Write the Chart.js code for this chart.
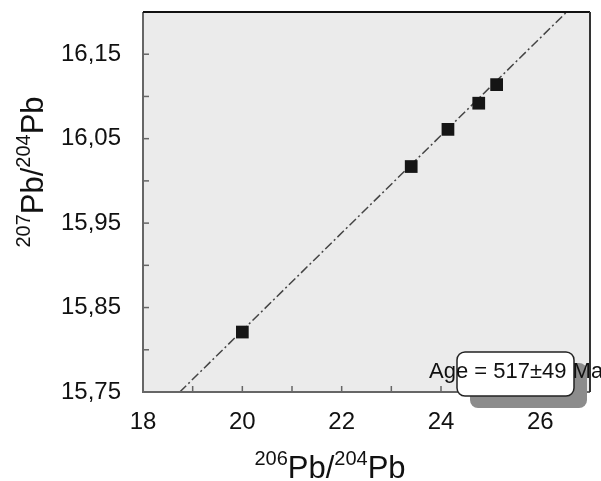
<!DOCTYPE html>
<html>
<head>
<meta charset="utf-8">
<script src="https://cdn.jsdelivr.net/npm/chart.js@4/dist/chart.umd.min.js"></script>
<style>
  html, body { margin: 0; padding: 0; background: #fff; }
  #wrap { width: 601px; height: 481px; }
</style>
</head>
<body>
<div id="wrap"><canvas id="chart" width="601" height="481"></canvas></div>
<script>
// ============ Data ============
const xValues = [20.0, 23.40, 24.14, 24.76, 25.12];
const yValues = [15.821, 16.017, 16.061, 16.092, 16.114];
const fitX = [18.74, 26.53];
const fitY = [15.75, 16.20];

const xTicks = [18, 19, 20, 21, 22, 23, 24, 25, 26, 27];
const xTickLabels = ['18', '', '20', '', '22', '', '24', '', '26', ''];
const yTicks = [15.75, 15.80, 15.85, 15.90, 15.95, 16.00, 16.05, 16.10, 16.15, 16.20];
const yTickLabels = ['15,75', '', '15,85', '', '15,95', '', '16,05', '', '16,15', ''];

const ageText = 'Age = 517\u00B149 Ma';
const FONT = 'Liberation Sans, Arial, sans-serif';

// ============ Plugins ============
const plotBg = {
    id: 'plotBg',
    beforeDraw(chart) {
        const { ctx, chartArea: a } = chart;
        ctx.save();
        ctx.fillStyle = '#ebebeb';
        ctx.fillRect(a.left, a.top, a.right - a.left, a.bottom - a.top);
        ctx.restore();
    }
};

const frameAndTicks = {
    id: 'frameAndTicks',
    afterDatasetsDraw(chart) {
        const { ctx, chartArea: a, scales } = chart;
        ctx.save();
        // inward ticks
        ctx.strokeStyle = '#666';
        ctx.lineWidth = 1.5;
        xTicks.forEach(v => {
            const px = scales.x.getPixelForValue(v);
            ctx.beginPath();
            ctx.moveTo(px, a.bottom);
            ctx.lineTo(px, a.bottom - 6);
            ctx.stroke();
        });
        yTicks.forEach(v => {
            const py = scales.y.getPixelForValue(v);
            ctx.beginPath();
            ctx.moveTo(a.left, py);
            ctx.lineTo(a.left + 6, py);
            ctx.stroke();
        });
        // frame
        ctx.lineWidth = 2;
        ctx.strokeStyle = '#666';
        ctx.beginPath();
        ctx.moveTo(a.left, a.top);
        ctx.lineTo(a.left, a.bottom);
        ctx.lineTo(a.right, a.bottom);
        ctx.stroke();
        ctx.strokeStyle = '#111';
        ctx.beginPath();
        ctx.moveTo(a.left, a.top);
        ctx.lineTo(a.right, a.top);
        ctx.stroke();
        ctx.strokeStyle = '#333';
        ctx.beginPath();
        ctx.moveTo(a.right, a.top);
        ctx.lineTo(a.right, a.bottom);
        ctx.stroke();
        ctx.restore();
    }
};

function roundRect(ctx, x, y, w, h, r) {
    ctx.beginPath();
    ctx.moveTo(x + r, y);
    ctx.arcTo(x + w, y, x + w, y + h, r);
    ctx.arcTo(x + w, y + h, x, y + h, r);
    ctx.arcTo(x, y + h, x, y, r);
    ctx.arcTo(x, y, x + w, y, r);
    ctx.closePath();
}

// superscript isotope labels, e.g. 206Pb/204Pb
function drawIsotopeLabel(ctx, parts, x, y, align) {
    const big = `31px ${FONT}`;
    const small = `20px ${FONT}`;
    let total = 0;
    parts.forEach(p => {
        ctx.font = p.sup ? small : big;
        total += ctx.measureText(p.t).width;
    });
    let cx = align === 'center' ? x - total / 2 : x;
    parts.forEach(p => {
        ctx.font = p.sup ? small : big;
        ctx.fillText(p.t, cx, p.sup ? y - 13 : y);
        cx += ctx.measureText(p.t).width;
    });
}

const titles = {
    id: 'titles',
    afterDraw(chart) {
        const { ctx, chartArea: a } = chart;
        const xParts = [{ t: '206', sup: true }, { t: 'Pb/', sup: false }, { t: '204', sup: true }, { t: 'Pb', sup: false }];
        const yParts = [{ t: '207', sup: true }, { t: 'Pb/', sup: false }, { t: '204', sup: true }, { t: 'Pb', sup: false }];
        ctx.save();
        ctx.fillStyle = '#111';
        ctx.textBaseline = 'alphabetic';
        drawIsotopeLabel(ctx, xParts, 330, 478, 'center');
        ctx.translate(43, 172);
        ctx.rotate(-Math.PI / 2);
        drawIsotopeLabel(ctx, yParts, 0, 0, 'center');
        ctx.restore();

        // age annotation box
        ctx.save();
        const bx = a.right - 133, by = a.bottom - 40;
        ctx.fillStyle = '#8c8c8c';
        roundRect(ctx, bx + 13, by + 11, 117, 45, 8);
        ctx.fill();
        ctx.fillStyle = '#fff';
        ctx.strokeStyle = '#222';
        ctx.lineWidth = 1.5;
        roundRect(ctx, bx, by, 117, 44, 8);
        ctx.fill();
        ctx.stroke();
        ctx.fillStyle = '#111';
        ctx.font = `22px ${FONT}`;
        ctx.textBaseline = 'middle';
        ctx.fillText(ageText, a.left + 286, by + 20);
        ctx.restore();
    }
};

// ============ Chart ============
new Chart(document.getElementById('chart').getContext('2d'), {
    type: 'scatter',
    data: {
        datasets: [
            {
                label: 'fit',
                data: fitX.map((x, i) => ({ x, y: fitY[i] })),
                showLine: true,
                borderColor: '#444',
                borderWidth: 1.5,
                borderDash: [9, 3, 2, 3],
                pointRadius: 0,
                order: 2
            },
            {
                label: 'samples',
                data: xValues.map((x, i) => ({ x, y: yValues[i] })),
                pointStyle: 'rect',
                pointRadius: 9,
                pointHoverRadius: 9,
                backgroundColor: '#151515',
                borderColor: '#151515',
                borderWidth: 0,
                order: 1
            }
        ]
    },
    options: {
        responsive: false,
        animation: false,
        devicePixelRatio: 1,
        layout: { padding: { left: 0, right: 11, top: 12, bottom: 0 } },
        plugins: { legend: { display: false }, tooltip: { enabled: false } },
        scales: {
            x: {
                type: 'linear',
                min: 18,
                max: 27,
                afterBuildTicks: s => { s.ticks = xTicks.map(v => ({ value: v })); },
                afterFit: s => {
                    s.height = 89;
                    s.paddingLeft = 0; s.paddingRight = 0;
                },
                grid: { display: false, drawTicks: false },
                border: { display: false },
                ticks: {
                    color: '#111',
                    padding: 16,
                    maxRotation: 0,
                    autoSkip: false,
                    font: { family: FONT, size: 24 },
                    callback: (v, i) => xTickLabels[i]
                }
            },
            y: {
                type: 'linear',
                min: 15.75,
                max: 16.20,
                afterBuildTicks: s => { s.ticks = yTicks.map(v => ({ value: v })); },
                afterFit: s => {
                    s.width = 143;
                    s.paddingTop = 0; s.paddingBottom = 0;
                },
                grid: { display: false, drawTicks: false },
                border: { display: false },
                ticks: {
                    color: '#111',
                    padding: 22,
                    autoSkip: false,
                    font: { family: FONT, size: 24 },
                    callback: (v, i) => yTickLabels[i]
                }
            }
        }
    },
    plugins: [plotBg, frameAndTicks, titles]
});
</script>
</body>
</html>
